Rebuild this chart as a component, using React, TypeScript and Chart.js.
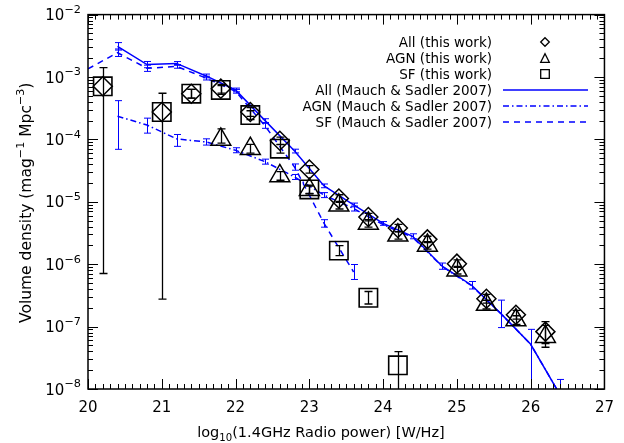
import React, { useEffect, useRef } from "react";
import { Chart, registerables } from "chart.js";

Chart.register(...registerables);

// ---------------- data ----------------
// x-axis tick values (log10 power)
const xTicks = [20, 21, 22, 23, 24, 25, 26, 27];
// y-axis decade exponents
const yDecades = [-8, -7, -6, -5, -4, -3, -2];

// This work – All (diamonds)
const allX = [20.2, 21.0, 21.4, 21.8, 22.2, 22.6, 23.0, 23.4, 23.8, 24.2, 24.6, 25.0, 25.4, 25.8, 26.2];
const allY = [7.1e-4, 2.75e-4, 5.4e-4, 6.5e-4, 2.75e-4, 9.5e-5, 3.3e-5, 1.13e-5, 5.7e-6, 3.8e-6, 2.5e-6, 1.02e-6, 2.8e-7, 1.55e-7, 8.3e-8];
const allErrUp = [0.3, 0.3, 0.07, 0.07, 0.07, 0.06, 0.06, 0.06, 0.06, 0.06, 0.05, 0.06, 0.07, 0.07, 0.16];
const allErrDn = [3.0, 3.0, 0.07, 0.07, 0.07, 0.06, 0.06, 0.06, 0.06, 0.06, 0.05, 0.06, 0.07, 0.07, 0.19];

// This work – AGN (triangles)
const agnX = [21.8, 22.2, 22.6, 23.0, 23.4, 23.8, 24.2, 24.6, 25.0, 25.4, 25.8, 26.2];
const agnY = [1.0e-4, 7.1e-5, 2.6e-5, 1.56e-5, 8.8e-6, 4.5e-6, 2.9e-6, 2.0e-6, 8.0e-7, 2.25e-7, 1.27e-7, 6.9e-8];
const agnErrUp = [0.17, 0.07, 0.07, 0.06, 0.06, 0.06, 0.06, 0.06, 0.06, 0.07, 0.07, 0.18];
const agnErrDn = [0.06, 0.07, 0.07, 0.06, 0.06, 0.06, 0.06, 0.06, 0.06, 0.07, 0.07, 0.17];

// This work – SF (squares)
const sfX = [20.2, 21.0, 21.4, 21.8, 22.2, 22.6, 23.0, 23.4, 23.8, 24.2];
const sfY = [7.1e-4, 2.75e-4, 5.4e-4, 6.2e-4, 2.45e-4, 7.1e-5, 1.58e-5, 1.65e-6, 2.9e-7, 2.4e-8];
const sfErrUp = [0, 0, 0.07, 0.07, 0.07, 0.07, 0.07, 0.08, 0.1, 0.22];
const sfErrDn = [0, 0, 0.07, 0.07, 0.07, 0.07, 0.07, 0.08, 0.1, 2.0];

// Mauch & Sadler 2007
const msX = [20.4, 20.8, 21.2, 21.6, 22.0, 22.4, 22.8, 23.2, 23.6, 24.0, 24.4, 24.8, 25.2, 25.6, 26.0, 26.4];
const msAll = [3.1e-3, 1.58e-3, 1.65e-3, 1.04e-3, 6.2e-4, 2.0e-4, 6.5e-5, 1.8e-5, 8.9e-6, 4.5e-6, 2.8e-6, 9.3e-7, 4.6e-7, 1.6e-7, 5.2e-8, 8e-9];
const msAllErrUp = [0.06, 0.05, 0.03, 0.03, 0.03, 0.03, 0.03, 0.03, 0.03, 0.03, 0.04, 0.05, 0.06, 0.22, 0.24, 0.25];
const msAllErrDn = [0.06, 0.05, 0.03, 0.03, 0.03, 0.03, 0.03, 0.03, 0.03, 0.03, 0.04, 0.05, 0.06, 0.22, 2.0, 2.0];
const msAgn = [2.35e-4, 1.7e-4, 1.02e-4, 9.1e-5, 6.7e-5, 4.4e-5, 2.5e-5, 1.28e-5, 7.8e-6, 4.3e-6, 2.7e-6, 9.2e-7, 4.5e-7, 1.6e-7, 5.2e-8, 8e-9];
const msAgnErrUp = [0.25, 0.11, 0.07, 0.05, 0.04, 0.04, 0.04, 0.04, 0.04, 0, 0, 0, 0, 0, 0, 0];
const msAgnErrDn = [0.53, 0.13, 0.12, 0.05, 0.04, 0.04, 0.04, 0.04, 0.04, 0, 0, 0, 0, 0, 0, 0];
const msSfX = [20.0, 20.4, 20.8, 21.2, 21.6, 22.0, 22.4, 22.8, 23.2, 23.6];
const msSf = [1.35e-3, 2.45e-3, 1.38e-3, 1.48e-3, 9.6e-4, 5.9e-4, 1.65e-4, 3.6e-5, 4.5e-6, 7.5e-7];
const msSfErr = [0, 0.06, 0.05, 0.03, 0.03, 0.03, 0.04, 0.05, 0.06, 0.12];

const labels = [
  "All (this work)",
  "AGN (this work)",
  "SF (this work)",
  "All (Mauch & Sadler 2007)",
  "AGN (Mauch & Sadler 2007)",
  "SF (Mauch & Sadler 2007)",
];

// ---------------- helpers ----------------
const FONT = "'DejaVu Sans', sans-serif";
const BLUE = "#0000ff";
const pts = (xs: number[], ys: number[]) => xs.map((x, i) => ({ x, y: ys[i] }));

type Seg = { t: string; s?: "sup" | "sub" };

function drawRich(ctx: CanvasRenderingContext2D, segs: Seg[], x: number, y: number, base: number, align: "left" | "center" | "right", smallScale = 0.72) {
  const small = base * smallScale;
  const widths = segs.map((sg) => {
    ctx.font = `${sg.s ? small : base}px ${FONT}`;
    return ctx.measureText(sg.t).width;
  });
  const total = widths.reduce((a, b) => a + b, 0);
  let cx = align === "center" ? x - total / 2 : align === "right" ? x - total : x;
  ctx.textAlign = "left";
  ctx.textBaseline = "alphabetic";
  segs.forEach((sg, i) => {
    ctx.font = `${sg.s ? small : base}px ${FONT}`;
    const dy = sg.s === "sup" ? -base * 0.48 : sg.s === "sub" ? base * 0.28 : 0;
    ctx.fillText(sg.t, cx, y + dy);
    cx += widths[i];
  });
}

const errorBarPlugin = {
  id: "errbars",
  afterDatasetsDraw(chart: any) {
    const { ctx, chartArea: ca, scales } = chart;
    const x = scales.x, y = scales.y;
    ctx.save();
    ctx.beginPath();
    ctx.rect(ca.left, ca.top, ca.right - ca.left, ca.bottom - ca.top);
    ctx.clip();
    chart.data.datasets.forEach((ds: any) => {
      if (!ds.errUp) return;
      ctx.strokeStyle = ds.errColor;
      ctx.lineWidth = ds.errWidth;
      ds.data.forEach((p: any, j: number) => {
        const up = ds.errUp[j] || 0, dn = ds.errDn[j] || 0;
        if (!up && !dn) return;
        const px = Math.round(x.getPixelForValue(p.x)) + 0.5;
        const yHi = y.getPixelForValue(p.y * Math.pow(10, up));
        const yLo = y.getPixelForValue(p.y / Math.pow(10, dn));
        const c = ds.capHalf;
        ctx.beginPath();
        ctx.moveTo(px, yHi);
        ctx.lineTo(px, yLo);
        ctx.moveTo(px - c, yHi);
        ctx.lineTo(px + c, yHi);
        ctx.moveTo(px - c, yLo);
        ctx.lineTo(px + c, yLo);
        ctx.stroke();
      });
    });
    ctx.restore();
  },
};

const framePlugin = {
  id: "frame",
  afterDraw(chart: any) {
    const { ctx, chartArea: ca, scales } = chart;
    const x = scales.x, y = scales.y;
    ctx.save();
    ctx.strokeStyle = "#000";
    ctx.lineWidth = 1.5;
    ctx.strokeRect(ca.left, ca.top, ca.right - ca.left, ca.bottom - ca.top);
    ctx.lineWidth = 1;
    ctx.beginPath();
    const x0 = xTicks[0], x1 = xTicks[xTicks.length - 1];
    for (let i = 0; i <= (x1 - x0) * 10; i++) {
      const v = x0 + i / 10;
      const px = Math.round(x.getPixelForValue(v)) + 0.5;
      const len = i % 10 === 0 ? 10 : 5;
      ctx.moveTo(px, ca.bottom);
      ctx.lineTo(px, ca.bottom - len);
      ctx.moveTo(px, ca.top);
      ctx.lineTo(px, ca.top + len);
    }
    yDecades.forEach((e, k) => {
      const maxM = k === yDecades.length - 1 ? 1 : 9;
      for (let m = 1; m <= maxM; m++) {
        const py = Math.round(y.getPixelForValue(m * Math.pow(10, e))) + 0.5;
        const len = m === 1 ? 10 : 5;
        ctx.moveTo(ca.left, py);
        ctx.lineTo(ca.left + len, py);
        ctx.moveTo(ca.right, py);
        ctx.lineTo(ca.right - len, py);
      }
    });
    ctx.stroke();

    // y tick labels: 10 with superscript exponent
    ctx.fillStyle = "#000";
    yDecades.forEach((e) => {
      const py = y.getPixelForValue(Math.pow(10, e));
      drawRich(ctx, [{ t: "10" }, { t: "\u2212" + String(-e), s: "sup" }], ca.left - 7, py + 5.5, 15, "right", 0.75);
    });

    // x axis title
    drawRich(
      ctx,
      [{ t: "log" }, { t: "10", s: "sub" }, { t: "(1.4GHz Radio power) [W/Hz]" }],
      321,
      437,
      14.5,
      "center",
      0.7
    );

    // y axis title (rotated)
    ctx.save();
    ctx.translate(31, (ca.top + ca.bottom) / 2 + 1);
    ctx.rotate(-Math.PI / 2);
    drawRich(
      ctx,
      [
        { t: "Volume density (mag" },
        { t: "\u22121", s: "sup" },
        { t: " Mpc" },
        { t: "\u22123", s: "sup" },
        { t: ")" },
      ],
      0,
      0,
      15.5,
      "center",
      0.72
    );
    ctx.restore();
    ctx.restore();
  },
};

const legendPlugin = {
  id: "customLegend",
  afterDraw(chart: any) {
    const { ctx } = chart;
    const textRight = 492;
    const symX = 545;
    const lineX0 = 503, lineX1 = 588;
    const y0 = 42, dy = 16;
    ctx.save();
    ctx.font = `13.5px ${FONT}`;
    ctx.fillStyle = "#000";
    ctx.textAlign = "right";
    ctx.textBaseline = "middle";
    chart.data.datasets.forEach((ds: any, i: number) => {
      const yy = y0 + i * dy;
      ctx.fillText(ds.label, textRight, yy + 1);
      if (ds.showLine === false) {
        ctx.strokeStyle = "#000";
        ctx.lineWidth = 1.3;
        ctx.setLineDash([]);
        ctx.beginPath();
        const h = 4.3;
        if (ds.legendShape === "diamond") {
          ctx.moveTo(symX - h, yy);
          ctx.lineTo(symX, yy - h);
          ctx.lineTo(symX + h, yy);
          ctx.lineTo(symX, yy + h);
          ctx.closePath();
        } else if (ds.legendShape === "triangle") {
          ctx.moveTo(symX - h, yy + h);
          ctx.lineTo(symX, yy - h);
          ctx.lineTo(symX + h, yy + h);
          ctx.closePath();
        } else {
          ctx.rect(symX - h, yy - h, 2 * h, 2 * h);
        }
        ctx.stroke();
      } else {
        ctx.strokeStyle = ds.borderColor;
        ctx.lineWidth = ds.borderWidth;
        ctx.setLineDash(ds.borderDash || []);
        ctx.beginPath();
        ctx.moveTo(lineX0, yy);
        ctx.lineTo(lineX1, yy);
        ctx.stroke();
      }
    });
    ctx.restore();
  },
};

export default function App() {
  const ref = useRef<HTMLCanvasElement>(null);

  useEffect(() => {
    const canvas = ref.current!;
    const chart = new Chart(canvas, {
      type: "line",
      data: {
        datasets: [
          {
            label: labels[0],
            data: pts(allX, allY),
            showLine: false,
            pointStyle: "rectRot",
            pointRadius: 9.5,
            pointBorderColor: "#000",
            pointBackgroundColor: "rgba(0,0,0,0)",
            pointBorderWidth: 1.5,
            legendShape: "diamond",
            errUp: allErrUp,
            errDn: allErrDn,
            errColor: "#000",
            errWidth: 1.3,
            capHalf: 4,
          } as any,
          {
            label: labels[1],
            data: pts(agnX, agnY),
            showLine: false,
            pointStyle: "triangle",
            pointRadius: 11.5,
            pointBorderColor: "#000",
            pointBackgroundColor: "rgba(0,0,0,0)",
            pointBorderWidth: 1.5,
            legendShape: "triangle",
            errUp: agnErrUp,
            errDn: agnErrDn,
            errColor: "#000",
            errWidth: 1.3,
            capHalf: 4,
          } as any,
          {
            label: labels[2],
            data: pts(sfX, sfY),
            showLine: false,
            pointStyle: "rect",
            pointRadius: 13,
            pointBorderColor: "#000",
            pointBackgroundColor: "rgba(0,0,0,0)",
            pointBorderWidth: 1.6,
            legendShape: "square",
            errUp: sfErrUp,
            errDn: sfErrDn,
            errColor: "#000",
            errWidth: 1.3,
            capHalf: 4,
          } as any,
          {
            label: labels[3],
            data: pts(msX, msAll),
            borderColor: BLUE,
            borderWidth: 1.5,
            pointRadius: 0,
            fill: false,
            tension: 0,
            errUp: msAllErrUp,
            errDn: msAllErrDn,
            errColor: BLUE,
            errWidth: 1,
            capHalf: 3.5,
          } as any,
          {
            label: labels[4],
            data: pts(msX, msAgn),
            borderColor: BLUE,
            borderWidth: 1.5,
            borderDash: [6, 3, 1.5, 3],
            pointRadius: 0,
            fill: false,
            tension: 0,
            errUp: msAgnErrUp,
            errDn: msAgnErrDn,
            errColor: BLUE,
            errWidth: 1,
            capHalf: 3.5,
          } as any,
          {
            label: labels[5],
            data: pts(msSfX, msSf),
            borderColor: BLUE,
            borderWidth: 1.5,
            borderDash: [6, 5],
            pointRadius: 0,
            fill: false,
            tension: 0,
            errUp: msSfErr,
            errDn: msSfErr,
            errColor: BLUE,
            errWidth: 1,
            capHalf: 3.5,
          } as any,
        ],
      },
      options: {
        responsive: false,
        animation: false,
        events: [],
        layout: { padding: { top: 14, right: 11, left: 0, bottom: 0 } },
        plugins: {
          legend: { display: false },
          tooltip: { enabled: false },
        },
        scales: {
          x: {
            type: "linear",
            min: xTicks[0],
            max: xTicks[xTicks.length - 1],
            grid: { display: false, drawTicks: false },
            border: { display: false },
            afterBuildTicks: (s: any) => {
              s.ticks = xTicks.map((v) => ({ value: v }));
            },
            afterFit: (s: any) => {
              s.height = 54;
            },
            ticks: {
              autoSkip: false,
              maxRotation: 0,
              padding: 10,
              color: "#000",
              font: { family: FONT, size: 15 },
              callback: (v: any) => String(v),
            },
            title: { display: false },
          },
          y: {
            type: "logarithmic",
            min: Math.pow(10, yDecades[0]),
            max: Math.pow(10, yDecades[yDecades.length - 1]),
            grid: { display: false, drawTicks: false },
            border: { display: false },
            afterBuildTicks: (s: any) => {
              s.ticks = yDecades.map((e) => ({ value: Math.pow(10, e) }));
            },
            afterFit: (s: any) => {
              s.width = 88;
            },
            ticks: { display: false },
            title: { display: false },
          },
        },
      },
      plugins: [errorBarPlugin, framePlugin, legendPlugin],
    });
    return () => chart.destroy();
  }, []);

  return (
    <div style={{ position: "absolute", left: 0, top: 0, width: 624, height: 443, background: "#fff" }}>
      <canvas ref={ref} width={624} height={443} style={{ display: "block" }} />
    </div>
  );
}
